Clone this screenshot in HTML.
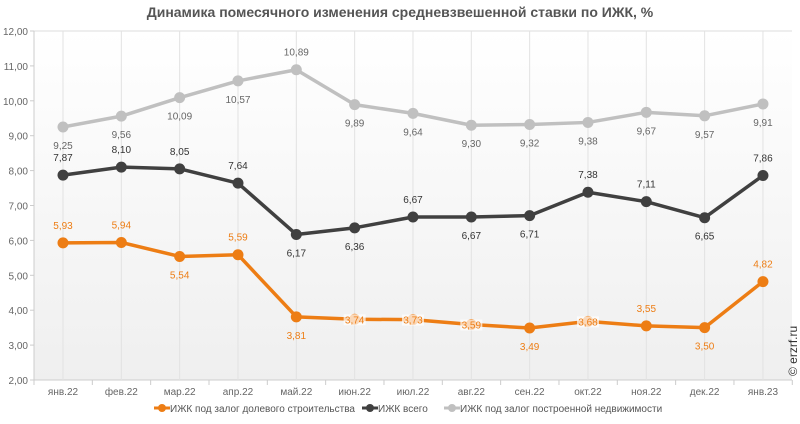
<!DOCTYPE html>
<html><head><meta charset="utf-8"><style>
body{margin:0;background:#fff}
svg text{font-family:"Liberation Sans","DejaVu Sans",sans-serif}
</style></head><body>
<svg width="800" height="419" viewBox="0 0 800 419" xmlns="http://www.w3.org/2000/svg">
<defs><linearGradient id="bg" x1="0" y1="0" x2="0" y2="1"><stop offset="0" stop-color="#ffffff"/><stop offset="1" stop-color="#efefef"/></linearGradient></defs>
<text x="400" y="17" text-anchor="middle" font-size="14" font-weight="bold" fill="#555">Динамика помесячного изменения средневзвешенной ставки по ИЖК, %</text>
<rect x="34" y="31" width="758" height="349" fill="url(#bg)"/>
<g stroke="#ddd" stroke-width="1">
<line x1="34" y1="31" x2="792" y2="31"/>
<line x1="34" y1="380" x2="792" y2="380" stroke="#ccc"/>
<line x1="34" y1="31" x2="34" y2="380" stroke="#ccc"/>
</g>
<g stroke="#e2e2e2" stroke-width="1" id="vg"></g>
<g font-size="10" fill="#666" text-anchor="end" id="yl"></g>
<g font-size="10" fill="#666" text-anchor="middle" id="xl"></g>
<g id="series"></g>
<g font-size="10">
<line x1="154" y1="408" x2="170" y2="408" stroke="#ed7d14" stroke-width="3"/><circle cx="162" cy="408" r="4" fill="#ed7d14"/>
<text x="170" y="412" fill="#555">ИЖК под залог долевого строительства</text>
<line x1="362" y1="408" x2="378" y2="408" stroke="#404040" stroke-width="3"/><circle cx="370" cy="408" r="4" fill="#404040"/>
<text x="378" y="412" fill="#555">ИЖК всего</text>
<line x1="444" y1="408" x2="460" y2="408" stroke="#c0c0c0" stroke-width="3"/><circle cx="452" cy="408" r="4" fill="#c0c0c0"/>
<text x="460" y="412" fill="#555">ИЖК под залог построенной недвижимости</text>
</g>
<text transform="translate(797,376) rotate(-90)" font-size="12" fill="#333">© erzrf.ru</text>
</svg>
<script>
var ns="http://www.w3.org/2000/svg";
function el(p,t,a,tx){var e=document.createElementNS(ns,t);for(var k in a)e.setAttribute(k,a[k]);if(tx!==undefined)e.textContent=tx;p.appendChild(e);return e;}
function X(i){return 63+i*58.33}
function Y(v){return 31+(12-v)*34.9}
var vg=document.getElementById('vg'),yl=document.getElementById('yl'),xl=document.getElementById('xl'),s=document.getElementById('series');
var m=["янв.22","фев.22","мар.22","апр.22","май.22","июн.22","июл.22","авг.22","сен.22","окт.22","ноя.22","дек.22","янв.23"];
for(var i=0;i<13;i++){el(vg,'line',{x1:X(i),y1:31,x2:X(i),y2:380});el(xl,'text',{x:X(i),y:395},m[i]);}
for(var i=0;i<=13;i++){el(vg,'line',{x1:34+i*58.33,y1:380,x2:34+i*58.33,y2:385,stroke:'#ccc'});}
for(var v=2;v<=12;v++){el(yl,'text',{x:28,y:Y(v)+4},v.toFixed(2).replace('.',','));el(vg,'line',{x1:30,y1:Y(v),x2:34,y2:Y(v),stroke:'#ccc'});}
var gray=[9.25,9.56,10.09,10.57,10.89,9.89,9.64,9.30,9.32,9.38,9.67,9.57,9.91];
var gpos="bbbbabbbbbbbb";
var blk=[7.87,8.10,8.05,7.64,6.17,6.36,6.67,6.67,6.71,7.38,7.11,6.65,7.86];
var bpos="aaaabbabbaaba";
var org=[5.93,5.94,5.54,5.59,3.81,3.74,3.73,3.59,3.49,3.68,3.55,3.50,4.82];
var opos="aababcccbcaba";
function ser(d,pos,col,lc){
 var p=d.map(function(v,i){return X(i)+','+Y(v)}).join(' ');
 el(s,'polyline',{points:p,fill:'none',stroke:col,'stroke-width':3.5,'stroke-linejoin':'round'});
 d.forEach(function(v,i){el(s,'circle',{cx:X(i),cy:Y(v),r:5.5,fill:col});});
 d.forEach(function(v,i){var c=pos[i],y=Y(v);var ty=c=='a'?y-14:(c=='b'?y+22:y+4);
  var t=v.toFixed(2).replace('.',',');
  if(c=='c'){el(s,'rect',{x:X(i)-11,y:y-5,width:22,height:11,fill:'#fff',opacity:0.7});}
  el(s,'text',{x:X(i),y:ty,'text-anchor':'middle','font-size':10,fill:lc},t);});
}
ser(gray,gpos,'#c0c0c0','#666');
ser(blk,bpos,'#404040','#333');
ser(org,opos,'#ed7d14','#ed7d14');
</script>
</body></html>
